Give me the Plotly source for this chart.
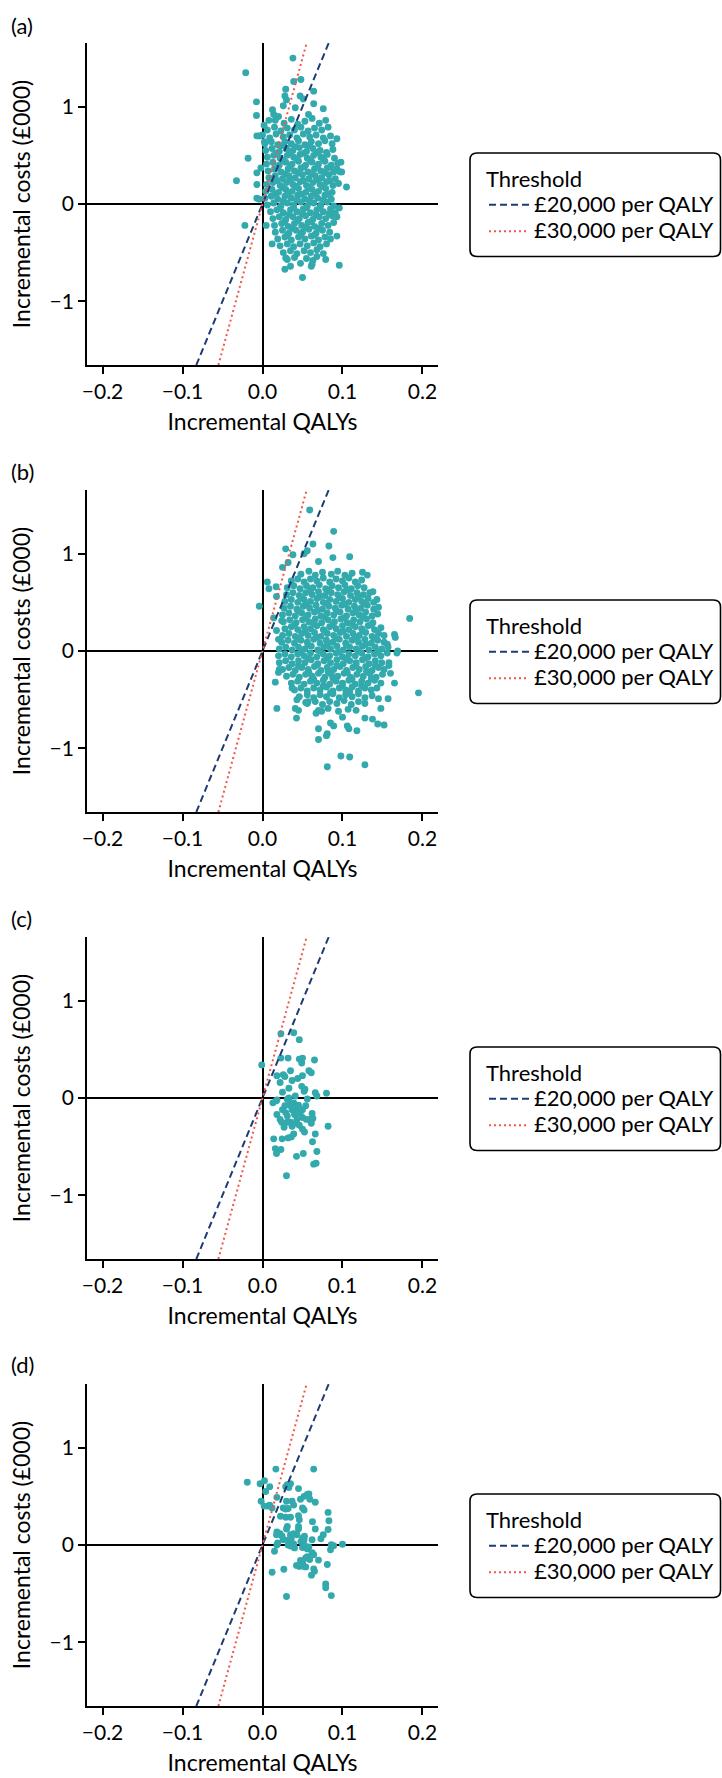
import plotly.graph_objects as go

# ---------------------------------------------------------------------------
# Data: bootstrap replicates (incremental QALYs, incremental costs in £000)
# ---------------------------------------------------------------------------
panel_labels = ["(a)", "(b)", "(c)", "(d)"]

points_a = [
    # scattered replicates
    (-0.021, 1.35), (0.038, 1.50), (0.048, 1.28), (0.039, 1.26), (0.064, 1.16),
    (0.029, 1.18), (0.028, 1.11), (0.030, 1.07), (0.047, 1.11), (0.051, 1.08),
    (-0.0075, 1.05), (-0.0075, 0.91), (0.064, 1.03), (0.076, 0.98), (0.0125, 0.97),
    (0.014, 0.92), (0.020, 0.90), (0.041, 0.99), (0.026, 1.01), (0.0575, 0.92),
    (0.002, 0.81), (-0.007, 0.70), (-0.004, 0.70), (-0.018, 0.47), (-0.0325, 0.24),
    (-0.007, 0.32), (-0.007, 0.20), (-0.002, 0.37), (-0.007, 0.06), (-0.004, 0.05),
    (-0.022, -0.22), (0.0046, -0.22), (0.012, -0.41), (0.105, 0.175), (0.098, 0.43),
    (0.097, 0.33), (0.099, 0.33), (0.093, 0.67), (0.093, -0.13), (0.096, -0.04),
    (0.093, -0.33), (0.096, -0.63), (0.050, -0.755), (0.061, -0.64), (0.062, -0.62),
    (0.028, -0.67), (0.035, -0.64), (0.029, -0.555), (0.0475, -0.61), (0.079, -0.57),
    (0.068, -0.54), (0.008, 0.86), (0.0025, 0.64),
    # main cloud
    (0.016, 0.86), (0.027, 0.83), (0.036, 0.87), (0.044, 0.82), (0.053, 0.85),
    (0.062, 0.88), (0.071, 0.83), (0.079, 0.86),
    (0.006, 0.76), (0.015, 0.79), (0.023, 0.75), (0.031, 0.78), (0.040, 0.76),
    (0.048, 0.79), (0.057, 0.75), (0.065, 0.78), (0.074, 0.76), (0.082, 0.79),
    (0.000, 0.71), (0.009, 0.68), (0.017, 0.72), (0.026, 0.69), (0.034, 0.71),
    (0.043, 0.68), (0.051, 0.72), (0.059, 0.69), (0.067, 0.71), (0.076, 0.68),
    (0.085, 0.70),
    (0.003, 0.62), (0.011, 0.64), (0.019, 0.61), (0.028, 0.64), (0.036, 0.62),
    (0.045, 0.65), (0.053, 0.61), (0.061, 0.64), (0.070, 0.62), (0.078, 0.65),
    (0.087, 0.62),
    (0.004, 0.55), (0.012, 0.57), (0.021, 0.54), (0.030, 0.57), (0.038, 0.55),
    (0.046, 0.58), (0.055, 0.54), (0.063, 0.57), (0.072, 0.55), (0.080, 0.53),
    (0.088, 0.56),
    (0.006, 0.48), (0.014, 0.50), (0.022, 0.47), (0.031, 0.50), (0.039, 0.48),
    (0.047, 0.51), (0.056, 0.47), (0.064, 0.50), (0.073, 0.48), (0.081, 0.51),
    (0.090, 0.47),
    (0.005, 0.41), (0.013, 0.43), (0.021, 0.40), (0.029, 0.43), (0.037, 0.41),
    (0.045, 0.44), (0.054, 0.40), (0.062, 0.43), (0.070, 0.41), (0.078, 0.44),
    (0.086, 0.40), (0.094, 0.42),
    (0.007, 0.34), (0.015, 0.36), (0.023, 0.33), (0.032, 0.36), (0.040, 0.34),
    (0.048, 0.37), (0.057, 0.33), (0.065, 0.36), (0.073, 0.34), (0.081, 0.37),
    (0.089, 0.33), (0.093, 0.36),
    (0.008, 0.27), (0.016, 0.29), (0.025, 0.26), (0.033, 0.29), (0.041, 0.27),
    (0.050, 0.30), (0.058, 0.26), (0.066, 0.29), (0.074, 0.27), (0.083, 0.30),
    (0.091, 0.26),
    (0.005, 0.20), (0.013, 0.22), (0.022, 0.19), (0.030, 0.22), (0.038, 0.20),
    (0.047, 0.23), (0.055, 0.19), (0.063, 0.22), (0.072, 0.20), (0.080, 0.23),
    (0.088, 0.19), (0.095, 0.21),
    (0.004, 0.13), (0.012, 0.15), (0.020, 0.12), (0.029, 0.15), (0.037, 0.13),
    (0.045, 0.16), (0.054, 0.12), (0.062, 0.15), (0.070, 0.13), (0.079, 0.16),
    (0.087, 0.12),
    (0.003, 0.06), (0.011, 0.08), (0.019, 0.05), (0.028, 0.08), (0.036, 0.06),
    (0.044, 0.09), (0.053, 0.05), (0.061, 0.08), (0.069, 0.06), (0.078, 0.09),
    (0.086, 0.05),
    (0.006, -0.01), (0.014, 0.01), (0.023, -0.02), (0.031, 0.01), (0.039, -0.01),
    (0.048, 0.02), (0.056, -0.02), (0.064, 0.01), (0.073, -0.01), (0.081, 0.02),
    (0.089, -0.02),
    (0.010, -0.08), (0.018, -0.06), (0.026, -0.09), (0.035, -0.06), (0.043, -0.08),
    (0.051, -0.05), (0.060, -0.09), (0.068, -0.06), (0.076, -0.08), (0.085, -0.05),
    (0.091, -0.09),
    (0.013, -0.15), (0.021, -0.13), (0.029, -0.16), (0.038, -0.13), (0.046, -0.15),
    (0.054, -0.12), (0.063, -0.16), (0.071, -0.13), (0.079, -0.15), (0.087, -0.12),
    (0.015, -0.22), (0.024, -0.20), (0.032, -0.23), (0.040, -0.20), (0.049, -0.22),
    (0.057, -0.19), (0.065, -0.23), (0.074, -0.20), (0.082, -0.22), (0.089, -0.19),
    (0.016, -0.29), (0.025, -0.27), (0.033, -0.30), (0.042, -0.27), (0.050, -0.29),
    (0.058, -0.26), (0.067, -0.30), (0.075, -0.27), (0.084, -0.29),
    (0.019, -0.36), (0.028, -0.34), (0.036, -0.37), (0.045, -0.34), (0.053, -0.36),
    (0.061, -0.33), (0.070, -0.37), (0.078, -0.34), (0.085, -0.36),
    (0.022, -0.43), (0.031, -0.41), (0.039, -0.44), (0.047, -0.41), (0.056, -0.43),
    (0.064, -0.40), (0.072, -0.44), (0.080, -0.41),
    (0.026, -0.50), (0.035, -0.48), (0.043, -0.51), (0.052, -0.48), (0.060, -0.50),
    (0.068, -0.47), (0.076, -0.51),
    (0.031, -0.57), (0.040, -0.55), (0.055, -0.56), (0.063, -0.58),
    # dense core
    (0.024, 0.60), (0.041, 0.59), (0.058, 0.60),
    (0.017, 0.52), (0.034, 0.53), (0.051, 0.52), (0.068, 0.53),
    (0.026, 0.45), (0.043, 0.46), (0.060, 0.45), (0.076, 0.46),
    (0.019, 0.38), (0.035, 0.39), (0.052, 0.38), (0.069, 0.39), (0.085, 0.38),
    (0.028, 0.31), (0.045, 0.32), (0.061, 0.31), (0.078, 0.32),
    (0.018, 0.24), (0.034, 0.25), (0.051, 0.24), (0.068, 0.25), (0.084, 0.24),
    (0.025, 0.17), (0.042, 0.18), (0.058, 0.17), (0.075, 0.18),
    (0.016, 0.10), (0.032, 0.11), (0.049, 0.10), (0.066, 0.11), (0.083, 0.10),
    (0.026, 0.03), (0.043, 0.04), (0.059, 0.03), (0.076, 0.04),
    (0.022, -0.04), (0.039, -0.03), (0.055, -0.04), (0.072, -0.03),
    (0.033, -0.11), (0.050, -0.10), (0.067, -0.11), (0.083, -0.10),
    (0.028, -0.18), (0.044, -0.17), (0.061, -0.18),
    (0.037, -0.25), (0.054, -0.24), (0.070, -0.25),
    (0.031, -0.32), (0.048, -0.31), (0.065, -0.32),
]

points_b = [
    # scattered replicates
    (0.059, 1.45), (0.089, 1.23), (0.063, 1.10), (0.083, 1.08), (0.029, 1.05),
    (0.056, 1.03), (0.052, 1.00), (0.038, 0.99), (0.088, 0.96), (0.109, 0.97),
    (0.032, 0.91), (0.070, 0.92), (0.025, 0.86), (0.006, 0.71), (0.008, 0.64),
    (0.017, 0.66), (-0.004, 0.46), (0.0175, 0.56), (0.014, 0.34), (0.0175, 0.21),
    (0.184, 0.335), (0.195, -0.43), (0.125, 0.81), (0.131, 0.78), (0.138, 0.61),
    (0.143, 0.53), (0.165, 0.17), (0.166, 0.14), (0.169, 0.0), (0.168, -0.02),
    (0.156, 0.07), (0.158, -0.12), (0.158, -0.15), (0.160, -0.23), (0.165, -0.33),
    (0.157, -0.49), (0.145, -0.49), (0.148, -0.59), (0.144, -0.75), (0.152, -0.76),
    (0.1375, -0.70), (0.128, -0.69), (0.118, -0.82), (0.108, -0.80), (0.106, -0.77),
    (0.100, -0.68), (0.098, -1.08), (0.109, -1.09), (0.128, -1.17), (0.081, -1.19),
    (0.070, -0.91), (0.070, -0.80), (0.080, -0.87), (0.081, -0.85), (0.085, -0.74),
    (0.089, -0.77), (0.067, -0.64), (0.074, -0.62), (0.0425, -0.69), (0.041, -0.59),
    (0.045, -0.61), (0.054, -0.53), (0.057, -0.52), (0.018, -0.59), (0.016, -0.32),
    (0.043, -0.50), (0.037, -0.38), (0.021, -0.19), (0.020, -0.22), (0.020, 0.12),
    (0.024, 0.31),
    # main cloud
    (0.048, 0.79), (0.058, 0.82), (0.066, 0.78), (0.075, 0.81), (0.086, 0.79),
    (0.094, 0.82), (0.103, 0.78), (0.112, 0.80),
    (0.036, 0.72), (0.044, 0.74), (0.052, 0.71), (0.060, 0.74), (0.068, 0.72),
    (0.076, 0.75), (0.084, 0.71), (0.092, 0.74), (0.100, 0.72), (0.108, 0.75),
    (0.116, 0.71), (0.124, 0.73),
    (0.031, 0.65), (0.039, 0.67), (0.047, 0.64), (0.055, 0.67), (0.063, 0.65),
    (0.071, 0.68), (0.079, 0.64), (0.087, 0.67), (0.095, 0.65), (0.103, 0.68),
    (0.111, 0.64), (0.119, 0.67), (0.127, 0.65),
    (0.030, 0.58), (0.038, 0.60), (0.046, 0.57), (0.054, 0.60), (0.062, 0.58),
    (0.070, 0.61), (0.078, 0.57), (0.086, 0.60), (0.094, 0.58), (0.102, 0.61),
    (0.110, 0.57), (0.118, 0.60), (0.126, 0.58), (0.134, 0.60),
    (0.028, 0.51), (0.036, 0.53), (0.044, 0.50), (0.052, 0.53), (0.060, 0.51),
    (0.068, 0.54), (0.076, 0.50), (0.084, 0.53), (0.092, 0.51), (0.100, 0.54),
    (0.108, 0.50), (0.116, 0.53), (0.124, 0.51), (0.132, 0.54), (0.139, 0.50),
    (0.027, 0.44), (0.035, 0.46), (0.043, 0.43), (0.051, 0.46), (0.059, 0.44),
    (0.067, 0.47), (0.075, 0.43), (0.083, 0.46), (0.091, 0.44), (0.099, 0.47),
    (0.107, 0.43), (0.115, 0.46), (0.123, 0.44), (0.131, 0.47), (0.139, 0.43),
    (0.145, 0.45),
    (0.025, 0.37), (0.033, 0.39), (0.041, 0.36), (0.049, 0.39), (0.057, 0.37),
    (0.065, 0.40), (0.073, 0.36), (0.081, 0.39), (0.089, 0.37), (0.097, 0.40),
    (0.105, 0.36), (0.113, 0.39), (0.121, 0.37), (0.129, 0.40), (0.137, 0.36),
    (0.144, 0.38),
    (0.026, 0.30), (0.034, 0.32), (0.042, 0.29), (0.050, 0.32), (0.058, 0.30),
    (0.066, 0.33), (0.074, 0.29), (0.082, 0.32), (0.090, 0.30), (0.098, 0.33),
    (0.106, 0.29), (0.114, 0.32), (0.122, 0.30), (0.130, 0.33), (0.138, 0.29),
    (0.028, 0.23), (0.036, 0.25), (0.044, 0.22), (0.052, 0.25), (0.060, 0.23),
    (0.068, 0.26), (0.076, 0.22), (0.084, 0.25), (0.092, 0.23), (0.100, 0.26),
    (0.108, 0.22), (0.116, 0.25), (0.124, 0.23), (0.132, 0.26), (0.140, 0.22),
    (0.148, 0.24),
    (0.025, 0.16), (0.033, 0.18), (0.041, 0.15), (0.049, 0.18), (0.057, 0.16),
    (0.065, 0.19), (0.073, 0.15), (0.081, 0.18), (0.089, 0.16), (0.097, 0.19),
    (0.105, 0.15), (0.113, 0.18), (0.121, 0.16), (0.129, 0.19), (0.137, 0.15),
    (0.145, 0.18), (0.152, 0.16),
    (0.024, 0.09), (0.032, 0.11), (0.040, 0.08), (0.048, 0.11), (0.056, 0.09),
    (0.064, 0.12), (0.072, 0.08), (0.080, 0.11), (0.088, 0.09), (0.096, 0.12),
    (0.104, 0.08), (0.112, 0.11), (0.120, 0.09), (0.128, 0.12), (0.136, 0.08),
    (0.144, 0.11), (0.152, 0.09),
    (0.021, 0.02), (0.029, 0.04), (0.037, 0.01), (0.045, 0.04), (0.053, 0.02),
    (0.061, 0.05), (0.069, 0.01), (0.077, 0.04), (0.085, 0.02), (0.093, 0.05),
    (0.101, 0.01), (0.109, 0.04), (0.117, 0.02), (0.125, 0.05), (0.133, 0.01),
    (0.141, 0.04), (0.149, 0.02), (0.157, 0.04),
    (0.020, -0.05), (0.028, -0.03), (0.036, -0.06), (0.044, -0.03), (0.052, -0.05),
    (0.060, -0.02), (0.068, -0.06), (0.076, -0.03), (0.084, -0.05), (0.092, -0.02),
    (0.100, -0.06), (0.108, -0.03), (0.116, -0.05), (0.124, -0.02), (0.132, -0.06),
    (0.140, -0.03), (0.148, -0.05), (0.156, -0.02),
    (0.021, -0.12), (0.029, -0.10), (0.037, -0.13), (0.045, -0.10), (0.053, -0.12),
    (0.061, -0.09), (0.069, -0.13), (0.077, -0.10), (0.085, -0.12), (0.093, -0.09),
    (0.101, -0.13), (0.109, -0.10), (0.117, -0.12), (0.125, -0.09), (0.133, -0.13),
    (0.141, -0.10), (0.149, -0.12),
    (0.025, -0.19), (0.033, -0.17), (0.041, -0.20), (0.049, -0.17), (0.057, -0.19),
    (0.065, -0.16), (0.073, -0.20), (0.081, -0.17), (0.089, -0.19), (0.097, -0.16),
    (0.105, -0.20), (0.113, -0.17), (0.121, -0.19), (0.129, -0.16), (0.137, -0.20),
    (0.145, -0.17), (0.152, -0.19),
    (0.030, -0.26), (0.038, -0.24), (0.046, -0.27), (0.054, -0.24), (0.062, -0.26),
    (0.070, -0.23), (0.078, -0.27), (0.086, -0.24), (0.094, -0.26), (0.102, -0.23),
    (0.110, -0.27), (0.118, -0.24), (0.126, -0.26), (0.134, -0.23), (0.142, -0.27),
    (0.150, -0.24),
    (0.036, -0.33), (0.044, -0.31), (0.052, -0.34), (0.060, -0.31), (0.068, -0.33),
    (0.076, -0.30), (0.084, -0.34), (0.092, -0.31), (0.100, -0.33), (0.108, -0.30),
    (0.116, -0.34), (0.124, -0.31), (0.132, -0.33), (0.140, -0.30), (0.148, -0.33),
    (0.040, -0.40), (0.048, -0.38), (0.056, -0.41), (0.064, -0.38), (0.072, -0.40),
    (0.080, -0.37), (0.088, -0.41), (0.096, -0.38), (0.104, -0.40), (0.112, -0.37),
    (0.120, -0.41), (0.128, -0.38), (0.136, -0.40), (0.143, -0.38),
    (0.046, -0.47), (0.056, -0.45), (0.064, -0.48), (0.072, -0.45), (0.080, -0.47),
    (0.088, -0.44), (0.096, -0.48), (0.104, -0.45), (0.112, -0.47), (0.120, -0.44),
    (0.128, -0.48), (0.137, -0.46),
    (0.056, -0.54), (0.066, -0.52), (0.075, -0.55), (0.084, -0.52), (0.093, -0.54),
    (0.102, -0.51), (0.111, -0.55), (0.120, -0.52), (0.128, -0.54),
    (0.070, -0.61), (0.082, -0.59), (0.095, -0.62), (0.107, -0.60), (0.117, -0.61),
    # dense core
    (0.060, 0.63), (0.083, 0.62), (0.106, 0.63),
    (0.048, 0.55), (0.072, 0.56), (0.096, 0.55), (0.120, 0.56),
    (0.055, 0.48), (0.079, 0.49), (0.103, 0.48), (0.127, 0.49),
    (0.045, 0.41), (0.069, 0.42), (0.093, 0.41), (0.117, 0.42),
    (0.054, 0.34), (0.078, 0.35), (0.102, 0.34), (0.126, 0.35),
    (0.040, 0.27), (0.064, 0.28), (0.088, 0.27), (0.112, 0.28), (0.136, 0.27),
    (0.053, 0.20), (0.077, 0.21), (0.101, 0.20), (0.125, 0.21),
    (0.044, 0.13), (0.068, 0.14), (0.092, 0.13), (0.116, 0.14), (0.140, 0.13),
    (0.057, 0.06), (0.081, 0.07), (0.105, 0.06), (0.129, 0.07),
    (0.048, -0.01), (0.072, 0.00), (0.096, -0.01), (0.120, 0.00), (0.144, -0.01),
    (0.057, -0.08), (0.081, -0.07), (0.105, -0.08), (0.129, -0.07),
    (0.045, -0.15), (0.069, -0.14), (0.093, -0.15), (0.117, -0.14), (0.141, -0.15),
    (0.058, -0.22), (0.082, -0.21), (0.106, -0.22), (0.130, -0.21),
    (0.064, -0.29), (0.088, -0.28), (0.112, -0.29), (0.136, -0.28),
    (0.076, -0.36), (0.100, -0.35), (0.124, -0.36),
    (0.085, -0.43), (0.109, -0.42),
]

points_c = [
    (-0.001, 0.34), (0.023, 0.66), (0.039, 0.67), (0.046, 0.60), (0.023, 0.41),
    (0.032, 0.41), (0.046, 0.40), (0.050, 0.41), (0.049, 0.36), (0.065, 0.39),
    (0.018, 0.23), (0.026, 0.24), (0.028, 0.22), (0.035, 0.28), (0.037, 0.18),
    (0.044, 0.20), (0.050, 0.23), (0.058, 0.28), (0.061, 0.26), (0.022, 0.16),
    (0.025, 0.06), (0.033, 0.10), (0.049, 0.12), (0.052, 0.07), (0.053, 0.09),
    (0.066, 0.055), (0.068, 0.02), (0.080, 0.05), (0.041, 0.02), (0.013, -0.05),
    (0.017, -0.03), (0.018, -0.02), (0.025, -0.12), (0.018, -0.17), (0.022, -0.22),
    (0.024, -0.25), (0.029, -0.15), (0.031, -0.185), (0.035, -0.08), (0.037, -0.12),
    (0.039, -0.05), (0.041, -0.10), (0.045, -0.075), (0.050, -0.12), (0.054, -0.08),
    (0.062, -0.16), (0.059, -0.22), (0.050, -0.20), (0.043, -0.22), (0.042, -0.26),
    (0.035, -0.25), (0.037, -0.29), (0.039, -0.37), (0.036, -0.40), (0.032, -0.41),
    (0.050, -0.32), (0.0525, -0.35), (0.066, -0.37), (0.082, -0.29), (0.014, -0.42),
    (0.0245, -0.42), (0.016, -0.52), (0.0175, -0.57), (0.023, -0.53), (0.0625, -0.45),
    (0.068, -0.55), (0.0425, -0.60), (0.051, -0.57), (0.064, -0.68), (0.067, -0.67),
    (0.030, -0.80), (0.031, -0.014), (0.033, 0.0), (0.043, -0.13), (0.047, -0.16),
    (0.055, -0.22), (0.031, -0.25), (0.027, -0.30), (0.061, -0.26), (0.056, -0.01),
    (0.034, -0.06), (0.040, -0.17), (0.046, -0.28), (0.028, -0.08), (0.063, -0.21),
]

points_d = [
    (-0.019, 0.645), (-0.003, 0.63), (0.0025, 0.66), (0.0167, 0.78), (0.064, 0.78),
    (0.009, 0.60), (0.004, 0.55), (-0.0017, 0.45), (0.002, 0.40), (0.006, 0.40),
    (0.009, 0.41), (0.012, 0.38), (0.018, 0.49), (0.0225, 0.295), (0.026, 0.38),
    (0.029, 0.60), (0.031, 0.62), (0.035, 0.63), (0.033, 0.59), (0.030, 0.45),
    (0.037, 0.45), (0.039, 0.41), (0.045, 0.58), (0.0475, 0.47), (0.052, 0.50),
    (0.056, 0.52), (0.058, 0.525), (0.050, 0.38), (0.052, 0.36), (0.0592, 0.47),
    (0.066, 0.44), (0.029, 0.37), (0.032, 0.375), (0.029, 0.285), (0.035, 0.285),
    (0.045, 0.30), (0.046, 0.26), (0.031, 0.19), (0.030, 0.165), (0.045, 0.19),
    (0.045, 0.165), (0.0625, 0.24), (0.066, 0.165), (0.082, 0.335), (0.083, 0.25),
    (0.082, 0.16), (0.076, 0.105), (0.073, 0.065), (0.018, 0.135), (0.022, 0.115),
    (0.0175, 0.105), (0.0245, 0.09), (0.026, 0.055), (0.035, 0.105), (0.039, 0.115),
    (0.043, 0.105), (0.033, 0.055), (0.036, 0.065), (0.050, 0.07), (0.0525, 0.09),
    (0.048, 0.035), (0.052, 0.055), (0.062, 0.055), (0.018, 0.0), (0.019, 0.02),
    (0.039, 0.01), (0.050, -0.025), (0.0525, -0.003), (0.056, -0.04), (0.058, -0.02),
    (0.086, 0.003), (0.089, -0.007), (0.085, -0.05), (0.100, 0.007), (0.015, -0.065),
    (0.062, -0.08), (0.064, -0.10), (0.056, -0.12), (0.054, -0.134), (0.0475, -0.16),
    (0.050, -0.18), (0.046, -0.22), (0.0425, -0.21), (0.0517, -0.22), (0.054, -0.225),
    (0.059, -0.15), (0.070, -0.155), (0.081, -0.20), (0.064, -0.245), (0.065, -0.27),
    (0.0612, -0.31), (0.0267, -0.25), (0.012, -0.28), (0.079, -0.40), (0.079, -0.44),
    (0.086, -0.52), (0.030, -0.53), (0.032, 0.0), (0.035, -0.01), (0.040, -0.03),
]

panel_points = [points_a, points_b, points_c, points_d]

# Willingness-to-pay thresholds, in £000 per QALY
thresholds = [20, 30]
threshold_names = ["£20,000 per QALY", "£30,000 per QALY"]
legend_title = "Threshold"

x_tick_vals = [-0.2, -0.1, 0.0, 0.1, 0.2]
x_tick_text = ["\u22120.2", "\u22120.1", "0.0", "0.1", "0.2"]
y_tick_vals = [-1, 0, 1]
y_tick_text = ["\u22121", "0", "1"]
x_title = "Incremental QALYs"
y_title = "Incremental costs (£000)"

# ---------------------------------------------------------------------------
# Styling and layout geometry (pixels)
# ---------------------------------------------------------------------------
W, H = 722, 1778
M_L, M_R, M_T, M_B = 87, 284, 43, 72
PLOT_W = W - M_L - M_R
PLOT_H = H - M_T - M_B
PANEL_H, PITCH = 322, 447
X_RANGE = [-0.2194, 0.2194]
Y_RANGE = [-1.655, 1.655]

FONT = "Lato, 'Open Sans', sans-serif"
FS_TICK = 21
FS_TITLE = 23
FS_LEGEND = 22
FS_LEGEND_ROW = 18     # sets the row pitch of legend entries
FS_LABEL = 22
POINT_COLOUR = "#32a9ad"
LINE_STYLES = [
    dict(color="#1f3c72", width=2, dash="7px,4px"),
    dict(color="#f0584c", width=2, dash="2px,3px"),
]
AX_W = 1.8


def px_x(px):
    return (px - M_L) / PLOT_W


def px_y(py):
    return 1 - (py - M_T) / PLOT_H


fig = go.Figure()
layout = dict(
    width=W, height=H,
    margin=dict(l=M_L, r=M_R, t=M_T, b=M_B, pad=0, autoexpand=False),
    paper_bgcolor="white", plot_bgcolor="white",
    font=dict(family=FONT, size=FS_TICK, color="black"),
    showlegend=True,
)
annotations = []
shapes = []

for i, pts in enumerate(panel_points):
    n = i + 1
    xa = "x" if n == 1 else f"x{n}"
    ya = "y" if n == 1 else f"y{n}"
    leg = "legend" if n == 1 else f"legend{n}"
    top = PITCH * i
    dom = [1 - (top + PANEL_H) / PLOT_H, 1 - top / PLOT_H]

    axis_common = dict(
        showgrid=False, showline=True, linecolor="black", linewidth=AX_W,
        ticks="outside", ticklen=7, tickwidth=AX_W, tickcolor="black",
        zeroline=True, zerolinecolor="black", zerolinewidth=AX_W,
        tickfont=dict(family=FONT, size=FS_TICK, color="black"),
        fixedrange=True,
    )
    layout[f"xaxis{'' if n == 1 else n}"] = dict(
        axis_common, domain=[0, 1], anchor=ya, range=X_RANGE,
        tickvals=x_tick_vals, ticktext=x_tick_text,
        title=dict(text=x_title, standoff=12,
                   font=dict(family=FONT, size=FS_TITLE, color="black")),
    )
    layout[f"yaxis{'' if n == 1 else n}"] = dict(
        axis_common, domain=dom, anchor=xa, range=Y_RANGE,
        tickvals=y_tick_vals, ticktext=y_tick_text,
        title=dict(text=y_title, standoff=12,
                   font=dict(family=FONT, size=FS_TITLE, color="black")),
    )

    fig.add_trace(go.Scatter(
        x=[p[0] for p in pts], y=[p[1] for p in pts], mode="markers",
        marker=dict(color=POINT_COLOUR, size=6.9, line=dict(width=0)),
        xaxis=xa, yaxis=ya, showlegend=False, hoverinfo="skip",
    ))

    for k, (wtp, name) in enumerate(zip(thresholds, threshold_names)):
        fig.add_trace(go.Scatter(
            x=[Y_RANGE[0] / wtp, Y_RANGE[1] / wtp], y=Y_RANGE, mode="lines",
            line=LINE_STYLES[k],
            name=f'<span style="font-size:{FS_LEGEND}px">{name}</span>',
            legend=leg, xaxis=xa, yaxis=ya, hoverinfo="skip", cliponaxis=True,
        ))

    # legend placed to the right of each panel
    box_top = 153 + PITCH * i
    box_bot = box_top + 103.5
    layout[leg] = dict(
        x=px_x(484), y=px_y(box_top + 5), xanchor="left", yanchor="top",
        bgcolor="rgba(0,0,0,0)", borderwidth=0,
        font=dict(family=FONT, size=FS_LEGEND_ROW, color="black"),
        title=dict(text=legend_title,
                   font=dict(family=FONT, size=FS_LEGEND, color="black")),
        itemwidth=40, tracegroupgap=0,
    )

    # rounded frame around the legend
    x0, x1, r = 470, 720.5, 7
    y0, y1 = box_top, box_bot
    path = (
        f"M {px_x(x0 + r)},{px_y(y0)} L {px_x(x1 - r)},{px_y(y0)} "
        f"Q {px_x(x1)},{px_y(y0)} {px_x(x1)},{px_y(y0 + r)} "
        f"L {px_x(x1)},{px_y(y1 - r)} "
        f"Q {px_x(x1)},{px_y(y1)} {px_x(x1 - r)},{px_y(y1)} "
        f"L {px_x(x0 + r)},{px_y(y1)} "
        f"Q {px_x(x0)},{px_y(y1)} {px_x(x0)},{px_y(y1 - r)} "
        f"L {px_x(x0)},{px_y(y0 + r)} "
        f"Q {px_x(x0)},{px_y(y0)} {px_x(x0 + r)},{px_y(y0)} Z"
    )
    shapes.append(dict(type="path", path=path, xref="paper", yref="paper",
                       line=dict(color="black", width=1.6), layer="above"))

    annotations.append(dict(
        text=panel_labels[i], xref="paper", yref="paper",
        x=px_x(9), y=px_y(25 + 446.5 * i), xanchor="left", yanchor="middle",
        showarrow=False, font=dict(family=FONT, size=FS_LABEL, color="black"),
    ))

layout["annotations"] = annotations
layout["shapes"] = shapes
fig.update_layout(**layout)
fig.write_html("out.html")
